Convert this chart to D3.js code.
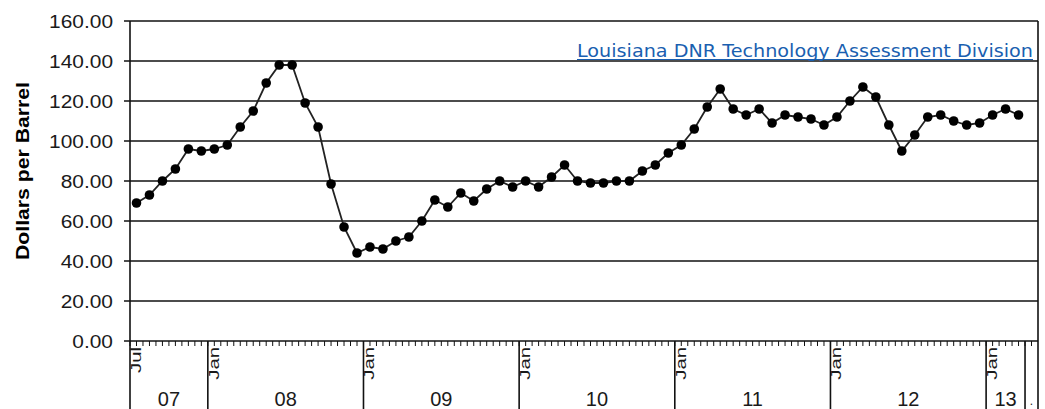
<!DOCTYPE html>
<html>
<head>
<meta charset="utf-8">
<script src="https://cdn.jsdelivr.net/npm/d3@7"></script>
<style>
    body { margin: 0; background: #fff; }
    svg { display: block; }
</style>
</head>
<body>
<div id="chart"></div>
<script>
// monthly price, Jul 2007 - Mar 2013
var price = [69, 73, 80, 86, 96, 95, 96, 98, 107, 115,
    129, 138, 138, 119, 107, 78.5, 57, 44, 47, 46,
    50, 52, 60, 70.5, 67, 74, 70, 76, 80, 77,
    80, 77, 82, 88, 80, 79, 79, 80, 80, 85,
    88, 94, 98, 106, 117, 126, 116, 113, 116, 109,
    113, 112, 111, 108, 112, 120, 127, 122, 108, 95,
    103, 112, 113, 110, 108, 109, 113, 116, 113];
var months = d3.timeMonth.range(new Date(2007, 6, 1), new Date(2013, 3, 1));
var yearLabels = ["07", "08", "09", "10", "11", "12", "13", "."];
var yTicks = [0, 20, 40, 60, 80, 100, 120, 140, 160];
var yTitle = "Dollars per Barrel";
var note = "Louisiana DNR Technology Assessment Division";

var width = 1045, height = 409;
var margin = {left: 130, right: 1038, top: 21, bottom: 341};

var fmt = d3.timeFormat("%Y-%m");
var cats = months.map(fmt).concat(["."]);   // last slot is the empty "." category

var x = d3.scaleBand().domain(cats).range([margin.left, margin.right]);
var y = d3.scaleLinear().domain([0, 160]).range([margin.bottom, margin.top]);

var svg = d3.select("#chart").append("svg")
    .attr("width", width)
    .attr("height", height);

// gridlines + y ticks
svg.selectAll(".grid")
    .data(yTicks)
    .enter().append("line")
    .attr("class", "grid")
    .attr("x1", margin.left - 6)
    .attr("x2", margin.right)
    .attr("y1", function (d) { return y(d); })
    .attr("y2", function (d) { return y(d); })
    .style("stroke", "#111")
    .style("stroke-width", 1.6);

svg.selectAll(".ylab")
    .data(yTicks)
    .enter().append("text")
    .attr("class", "ylab")
    .attr("transform", function (d) { return "translate(113," + y(d) + ") scale(1.1,1)"; })
    .attr("dy", "0.36em")
    .attr("text-anchor", "end")
    .style("font-family", "Arial, 'Liberation Sans', sans-serif")
    .style("font-size", "19px")
    .style("fill", "#1a1a1a")
    .text(d3.format(".2f"));

// y title
svg.append("text")
    .attr("transform", "translate(29,171) rotate(-90)")
    .attr("text-anchor", "middle")
    .attr("textLength", 178)
    .attr("lengthAdjust", "spacingAndGlyphs")
    .style("font-family", "Arial, 'Liberation Sans', sans-serif")
    .style("font-weight", "bold")
    .style("font-size", "18px")
    .style("fill", "#000")
    .text(yTitle);

// left and right frame lines, running down through the category rows
svg.append("line")
    .attr("x1", margin.left).attr("x2", margin.left)
    .attr("y1", margin.top).attr("y2", height)
    .style("stroke", "#111").style("stroke-width", 1.6);
svg.append("line")
    .attr("x1", margin.right).attr("x2", margin.right)
    .attr("y1", margin.top).attr("y2", height)
    .style("stroke", "#111").style("stroke-width", 1.6);

// small ticks under the axis, two per month
var bw = x.bandwidth();
svg.selectAll(".mtick")
    .data(d3.range(cats.length * 2))
    .enter().append("line")
    .attr("class", "mtick")
    .attr("x1", function (k) { return margin.left + k * bw / 2; })
    .attr("x2", function (k) { return margin.left + k * bw / 2; })
    .attr("y1", margin.bottom)
    .attr("y2", margin.bottom + 5)
    .style("stroke", "#111")
    .style("stroke-width", 1);

// year groups
var groupKey = function (c) { return c === "." ? "." : c.slice(2, 4); };
var groups = d3.groups(cats, groupKey);
groups.forEach(function (g, gi) {
    var x0 = x(g[1][0]);
    var x1 = x(g[1][g[1].length - 1]) + bw;
    if (gi > 0) {
        svg.append("line")
            .attr("x1", x0).attr("x2", x0)
            .attr("y1", margin.bottom).attr("y2", height)
            .style("stroke", "#111").style("stroke-width", 1.6);
    }
    svg.append("text")
        .attr("x", (x0 + x1) / 2)
        .attr("y", g[0] === "." ? 405 : 406)
        .attr("text-anchor", "middle")
        .style("font-family", "Arial, 'Liberation Sans', sans-serif")
        .style("font-size", g[0] === "." ? "12px" : "20px")
        .style("fill", "#1a1a1a")
        .text(yearLabels[gi]);
});

// month labels: first month and every January
var monthFmt = d3.timeFormat("%b");
svg.selectAll(".mlab")
    .data(months.filter(function (m, i) { return i === 0 || m.getMonth() === 0; }))
    .enter().append("text")
    .attr("class", "mlab")
    .attr("transform", function (m) {
        return "translate(" + (x(fmt(m)) + 11) + ",347) rotate(-90) scale(1.45,1)";
    })
    .attr("text-anchor", "end")
    .style("font-family", "Arial, 'Liberation Sans', sans-serif")
    .style("font-size", "14px")
    .style("fill", "#1a1a1a")
    .text(monthFmt);

// the price line
var line = d3.line()
    .x(function (d, i) { return x(fmt(months[i])) + bw / 2; })
    .y(function (d) { return y(d); });

svg.append("path")
    .datum(price)
    .attr("d", line)
    .style("fill", "none")
    .style("stroke", "#222")
    .style("stroke-width", 1.8);

svg.selectAll(".dot")
    .data(price)
    .enter().append("circle")
    .attr("class", "dot")
    .attr("cx", function (d, i) { return x(fmt(months[i])) + bw / 2; })
    .attr("cy", function (d) { return y(d); })
    .attr("r", 4.8)
    .style("fill", "#000");

// source note, top right
svg.append("text")
    .attr("x", 1033)
    .attr("y", 57)
    .attr("text-anchor", "end")
    .attr("textLength", 456)
    .attr("lengthAdjust", "spacingAndGlyphs")
    .style("font-family", "'DejaVu Sans', Verdana, sans-serif")
    .style("font-size", "17.5px")
    .style("fill", "#1a5fb0")
    .text(note);
svg.append("line")
    .attr("x1", 577).attr("x2", 1033)
    .attr("y1", 59.5).attr("y2", 59.5)
    .style("stroke", "#1a5fb0")
    .style("stroke-width", 1.2);
</script>
</body>
</html>
